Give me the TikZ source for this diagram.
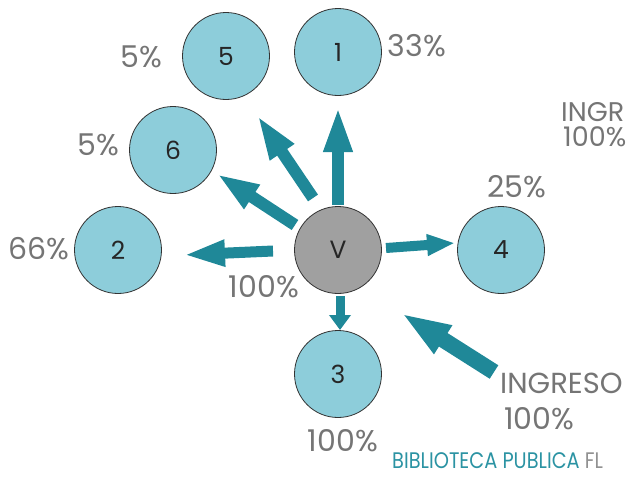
\documentclass[tikz,border=0pt]{standalone}
\usepackage{fontspec}
\setmainfont{Poppins}
\newfontfamily\condf{Poppins}[FakeStretch=0.86]
\usetikzlibrary{arrows.meta}
\definecolor{circfill}{HTML}{8DCDDA}
\definecolor{arr}{HTML}{1F8898}
\definecolor{txt}{HTML}{757575}
\definecolor{vfill}{HTML}{A0A0A0}
\definecolor{bib}{HTML}{2B93A3}
\tikzset{
  circ/.style={circle, draw=black!80, line width=0.8pt, fill=circfill, minimum size=87pt, inner sep=0pt, font=\fontsize{25}{27}\selectfont, text=black!85},
  vcirc/.style={circ, fill=vfill},
  pct/.style={text=txt, inner sep=0pt, font=\fontsize{30}{32}\selectfont},
  flow/.style args={#1/#2/#3}{draw=arr, line width=#1, -{Triangle[width=#2, length=#3]}}
}
\begin{document}
\begin{tikzpicture}[x=1pt, y=-1pt]
\useasboundingbox (0,0) rectangle (626,479);
% circles
\node[circ] (n5) at (226,56) {5};
\node[circ] (n1) at (338,52) {1};
\node[circ] (n6) at (173,150) {6};
\node[circ] (n2) at (118,250) {2};
\node[vcirc] (V) at (338,250) {V};
\node[circ] (n4) at (501,250) {4};
\node[circ] (n3) at (338,374) {3};
% labels
\node[pct] (p5) at (141,57) {5\%};
\node[pct] (p1) at (417,46) {33\%};
\node[pct] (p6) at (98,145) {5\%};
\node[pct] (p2) at (39,249) {66\%};
\node[pct] (p4) at (517,187) {25\%};
\node[pct] (pv) at (264,287) {100\%};
\node[pct] (p3) at (343,441) {100\%};
\node[pct, anchor=west, font=\fontsize{27}{29}\selectfont] (ing1) at (561,112) {INGRESO};
\node[pct, anchor=west, font=\fontsize{27}{29}\selectfont] (ing1p) at (563,137) {100\%};
\node[pct, anchor=west, font=\fontsize{29}{31}\selectfont] (ing2) at (500,383) {INGRESO};
\node[pct, anchor=west, font=\fontsize{30}{32}\selectfont] (ing2p) at (504,419) {100\%};
\node[anchor=base west, inner sep=0pt, font=\condf\fontsize{22.5}{24}\selectfont] (bib) at (392,468) {\textcolor{bib}{BIBLIOTECA PUBLICA} \textcolor{txt!80}{FL}};
% arrow ends
\coordinate (t1) at (338,205); \coordinate (h1) at (338,106);
\coordinate (t5) at (313,198); \coordinate (h5) at (257,115);
\coordinate (t6) at (295,225); \coordinate (h6) at (217,174);
\coordinate (t2) at (273,251); \coordinate (h2) at (183,255);
\coordinate (t4) at (386,248); \coordinate (h4) at (455,243);
\coordinate (t3) at (340,296); \coordinate (h3) at (340,330);
\coordinate (ti) at (494,372); \coordinate (hi) at (401,313);
% arrows
\draw[flow=12pt/26pt/46pt] (t1) -- (h1);
\draw[flow=12pt/26pt/45pt] (t5) -- (h5);
\draw[flow=12pt/26pt/42pt] (t6) -- (h6);
\draw[flow=11pt/24pt/42pt] (t2) -- (h2);
\draw[flow=10pt/20pt/28pt] (t4) -- (h4);
\draw[flow=9pt/21pt/15pt] (t3) -- (h3);
\draw[flow=16pt/30pt/50pt] (ti) -- (hi);
\end{tikzpicture}
\end{document}
